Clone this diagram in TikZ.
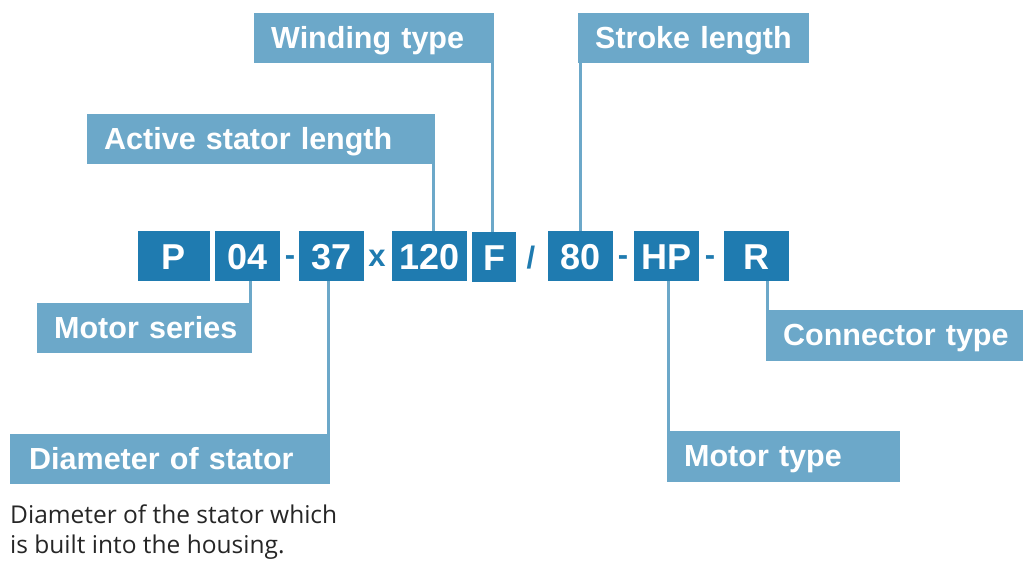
\documentclass[tikz,border=0pt]{standalone}
\usepackage{fontspec}
\setmainfont{Liberation Sans}
\newfontfamily\notefont{Open Sans}
\definecolor{darkb}{RGB}{31,123,176}
\definecolor{lightb}{RGB}{108,168,201}
\begin{document}
\begin{tikzpicture}[x=1pt,y=-1pt,
  codebox/.style={fill=darkb,text=white,inner sep=0pt,minimum height=50pt,
    text height=28pt,text depth=0pt,
    font=\fontsize{36}{40}\selectfont\bfseries},
  sepchar/.style={text=darkb,inner sep=0pt,anchor=base,font=\fontsize{31}{36}\selectfont\bfseries},
  lblbox/.style={fill=lightb,text=white,inner sep=0pt,anchor=north west,
    minimum height=50pt,align=left,text height=20pt,text depth=0pt,
    execute at begin node={\hspace*{17pt}},
    font=\fontsize{30.5}{34}\selectfont\bfseries},
  conn/.style={draw=lightb,line width=3pt}]
\useasboundingbox (0,0) rectangle (1023,561);
% code boxes
\node[codebox,minimum width=72pt] (bP) at (174,256) {P};
\node[codebox,minimum width=65pt] (b04) at (247.5,256) {04};
\node[codebox,minimum width=65pt] (b37) at (331.5,256) {37};
\node[codebox,minimum width=75pt] (b120) at (429.5,256) {120};
\node[codebox,minimum width=44pt] (bF) at (494,257) {F};
\node[codebox,minimum width=65pt] (b80) at (580.5,256) {80};
\node[codebox,minimum width=65pt] (bHP) at (666.5,256) {HP};
\node[codebox,minimum width=65pt] (bR) at (756.5,256) {R};
% separators
\node[sepchar] (s1) at (290,266) {-};
\node[sepchar] (s2) at (377,267) {x};
\node[sepchar] (s3) at (531,269) {/};
\node[sepchar] (s4) at (623,266) {-};
\node[sepchar] (s5) at (710,266) {-};
% label boxes
\node[lblbox,text width=240pt] (wt) at (254,13) {Winding type};
\node[lblbox,text width=231pt] (sl) at (578,13) {Stroke length};
\node[lblbox,text width=348pt] (act) at (87,114) {Active stator length};
\node[lblbox,text width=215pt] (ms) at (37,303) {Motor series};
\node[lblbox,text width=320pt] (dia) at (10,434) {\hspace*{2pt}Diameter of stator};
\node[lblbox,text width=233pt,minimum height=51pt] (mt) at (667,431) {Motor type};
\node[lblbox,text width=257pt,minimum height=51pt] (ct) at (766,310) {Connector type};
% connectors
\draw[conn] ([xshift=-1.5pt]act.south east) -- ([xshift=-1.5pt]act.south east |- b120.north);
\draw[conn] ([xshift=-1.5pt]wt.south east) -- ([xshift=-1.5pt]wt.south east |- bF.north);
\draw[conn] ([xshift=2pt]sl.south west) -- ([xshift=2pt]sl.south west |- b80.north);
\draw[conn] ([xshift=-2pt]ms.north east) -- ([xshift=-2pt]ms.north east |- b04.south);
\draw[conn] ([xshift=-1.5pt]dia.north east) -- ([xshift=-1.5pt]dia.north east |- b37.south);
\draw[conn] ([xshift=1.5pt]mt.north west) -- ([xshift=1.5pt]mt.north west |- bHP.south);
\draw[conn] ([xshift=1.5pt]ct.north west) -- ([xshift=1.5pt]ct.north west |- bR.south);
% note
\node[anchor=north west,inner sep=0pt,align=left,text=black!85,
  font=\notefont\fontsize{24.5}{29.5}\selectfont] (note) at (10,505)
  {Diameter of the stator which\\is built into the housing.};
\end{tikzpicture}
\end{document}
